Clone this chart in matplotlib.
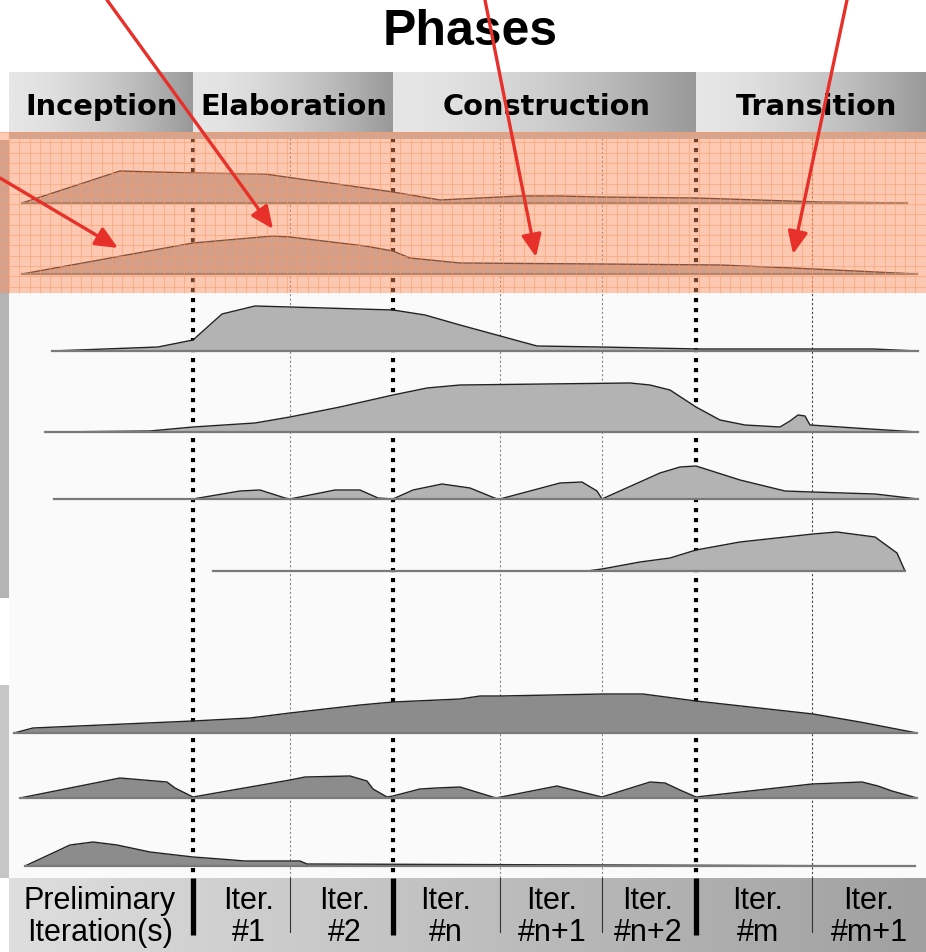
import numpy as np
import matplotlib.pyplot as plt
from matplotlib.colors import LinearSegmentedColormap
from matplotlib.patches import Rectangle

W, H = 926, 952

# phases across the top
phases = ['Inception', 'Elaboration', 'Construction', 'Transition']
phase_edges = [9, 193, 393, 696, 926]
phase_text_x = [102, 294, 547, 817]

# iterations along the bottom
iter_labels = ['Preliminary\nIteration(s)', 'Iter.\n#1', 'Iter.\n#2', 'Iter.\n#n',
               'Iter.\n#n+1', 'Iter.\n#n+2', 'Iter.\n#m', 'Iter.\n#m+1']
iter_centers = [100, 249, 345, 446, 552, 648, 758, 869]
major_edges = [193, 393, 696]
minor_edges = [290, 500, 602, 812]

# humps: x along the time line, height of the effort curve above its baseline
hump_x = [
    [22, 120, 193, 265, 300, 330, 393, 440, 520, 560, 600, 696, 820, 907],
    [22, 193, 273, 290, 365, 393, 410, 460, 600, 720, 793, 917],
    [52, 158, 193, 222, 255, 290, 393, 425, 460, 537, 600, 700, 873, 918],
    [45, 150, 193, 255, 290, 340, 393, 427, 460, 630, 650, 670, 696, 720, 745, 780,
     790, 798, 805, 810, 870, 918],
    [54, 193, 240, 260, 285, 290, 335, 360, 378, 393, 413, 442, 470, 497, 500, 560,
     582, 597, 602, 660, 680, 696, 740, 785, 812, 875, 918],
    [213, 587, 602, 640, 670, 696, 740, 813, 837, 875, 897, 905],
    [14, 33, 193, 250, 290, 360, 393, 460, 480, 500, 603, 643, 696, 813, 860, 917],
    [20, 120, 167, 175, 193, 290, 305, 350, 367, 373, 387, 393, 420, 436, 460, 496,
     557, 602, 650, 665, 680, 696, 812, 862, 878, 892, 917],
    [25, 70, 93, 117, 150, 193, 220, 245, 300, 307, 915],
]
hump_h = [
    [0, 32, 30, 29, 24, 20, 11, 3, 7, 7, 6, 5, 1, 0],
    [0, 31, 38, 37, 28, 23, 16, 11, 10, 9, 6, 0],
    [0, 4, 11, 37, 45, 44, 41, 36, 26, 5, 4, 2, 2, 0],
    [0, 1, 5, 9, 15, 25, 37, 44, 47, 49, 47, 42, 25, 12, 7, 5, 11, 17, 16, 7, 3, 0],
    [0, 0, 8, 9, 1, 0, 9, 9, 1, 0, 9, 15, 11, 0, 0, 16, 17, 8, 0, 26, 32, 33, 19, 8,
     7, 5, 0],
    [0, 0, 2, 9, 13, 21, 29, 37, 39, 34, 18, 0],
    [0, 5, 12, 15, 20, 28, 31, 34, 37, 37, 39, 39, 32, 19, 11, 0],
    [0, 20, 16, 10, 1, 18, 21, 22, 17, 9, 1, 2, 9, 10, 11, 0, 12, 1, 16, 15, 8, 1, 14,
     16, 12, 7, 0],
    [0, 21, 24, 21, 14, 9, 7, 5, 5, 2, 0],
]
row_base = [203, 274, 351, 432, 499, 571, 733, 798, 866]
row_fill = ['#b0b0b0'] * 2 + ['#b3b3b3'] * 4 + ['#8c8c8c'] * 3

# red call-out arrows (start, tip)
arrow_from = [(0, 178), (107, 0), (485, 0), (847, 0)]
arrow_to = [(118, 248), (273, 229), (536, 257), (793, 254)]

fig = plt.figure(figsize=(W / 100, H / 100), dpi=100)
ax = fig.add_axes([0, 0, 1, 1])
ax.axis('off')


def hgrad(x0, x1, y0, y1, c0, c1, power=1.0, z=5):
    t = np.linspace(0, 1, 256) ** power
    cmap = LinearSegmentedColormap.from_list('g', [c0, c1])
    ax.imshow(t[None, :], cmap=cmap, vmin=0, vmax=1, extent=(x0, x1, y1, y0),
              aspect='auto', interpolation='bilinear', zorder=z)


# backgrounds
ax.add_patch(Rectangle((9, 132), W - 9, 878 - 132, color='#fafafa', lw=0, zorder=0))
ax.add_patch(Rectangle((0, 140), 9, 598 - 140, color='#b4b4b4', lw=0, zorder=1))
ax.add_patch(Rectangle((0, 685), 9, 878 - 685, color='#c6c6c6', lw=0, zorder=1))

# iteration boundaries
for x in major_edges:
    ax.plot([x, x], [138, 878], color='black', lw=3, linestyle=(0, (1, 1.4)),
            dash_capstyle='butt', zorder=2)
for x in minor_edges:
    c = '#444444' if x == minor_edges[-1] else '#8a8a8a'
    ax.plot([x, x], [138, 878], color=c, lw=0.8, linestyle=(0, (2, 2)), zorder=2)

# effort humps
for xs, hs, base, fc in zip(hump_x, hump_h, row_base, row_fill):
    xs = np.array(xs)
    ys = base - np.array(hs)
    ax.fill_between(xs, base, ys, color=fc, lw=0, zorder=3)
    ax.plot(xs, ys, color='#222222', lw=1.0, zorder=3.1)
    ax.plot([xs[0], xs[-1]], [base, base], color='#7a7a7a', lw=1.6, zorder=3.2)

# orange highlight with grid
ax.add_patch(Rectangle((9, 132), W - 9, 7, color='#b8b8b8', lw=0, zorder=3.5))
ax.add_patch(Rectangle((0, 132), W, 161, color=(1.0, 0.55, 0.35), alpha=0.45,
                       lw=0, zorder=4))
ax.vlines(np.arange(9, W, 10.3), 132, 293, color='#ff9a60', lw=0.6, alpha=0.6, zorder=4.1)
ax.hlines(np.arange(132, 293, 10.3), 0, W, color='#ff9a60', lw=0.6, alpha=0.6, zorder=4.1)

# phase header
for name, x0, x1, tx in zip(phases, phase_edges[:-1], phase_edges[1:], phase_text_x):
    hgrad(x0, x1, 72, 132, '#e6e6e6', '#999999', power=1.6)
    ax.text(tx, 115, name, ha='center', va='baseline', fontsize=20.8,
            fontweight='bold', family='DejaVu Sans', zorder=6)

# iteration band
hgrad(9, W, 878, H, '#dedede', '#a0a0a0')
for x in major_edges:
    ax.plot([x, x], [878, 935], color='black', lw=3.8, solid_capstyle='butt', zorder=5.5)
for x in minor_edges:
    ax.plot([x, x], [878, 932], color='#333333', lw=0.8, zorder=5.5)
for lab, cx in zip(iter_labels, iter_centers):
    ax.text(cx, 917, lab, ha='center', va='center', fontsize=22,
            family='Liberation Sans', linespacing=1.12, zorder=6)

ax.text(470, 32, 'Phases', ha='center', va='center', fontsize=36,
        fontweight='bold', family='Liberation Sans', zorder=6)

for (sx, sy), (ex, ey) in zip(arrow_from, arrow_to):
    ax.annotate('', xy=(ex, ey), xytext=(sx, sy), annotation_clip=False,
                arrowprops=dict(arrowstyle='-|>,head_length=0.45,head_width=0.2',
                                color='#e8302a', lw=2.4, mutation_scale=30,
                                shrinkA=0, shrinkB=0), zorder=10)

ax.set_xlim(0, W)
ax.set_ylim(H, 0)
fig.savefig('out.png', dpi=100)
